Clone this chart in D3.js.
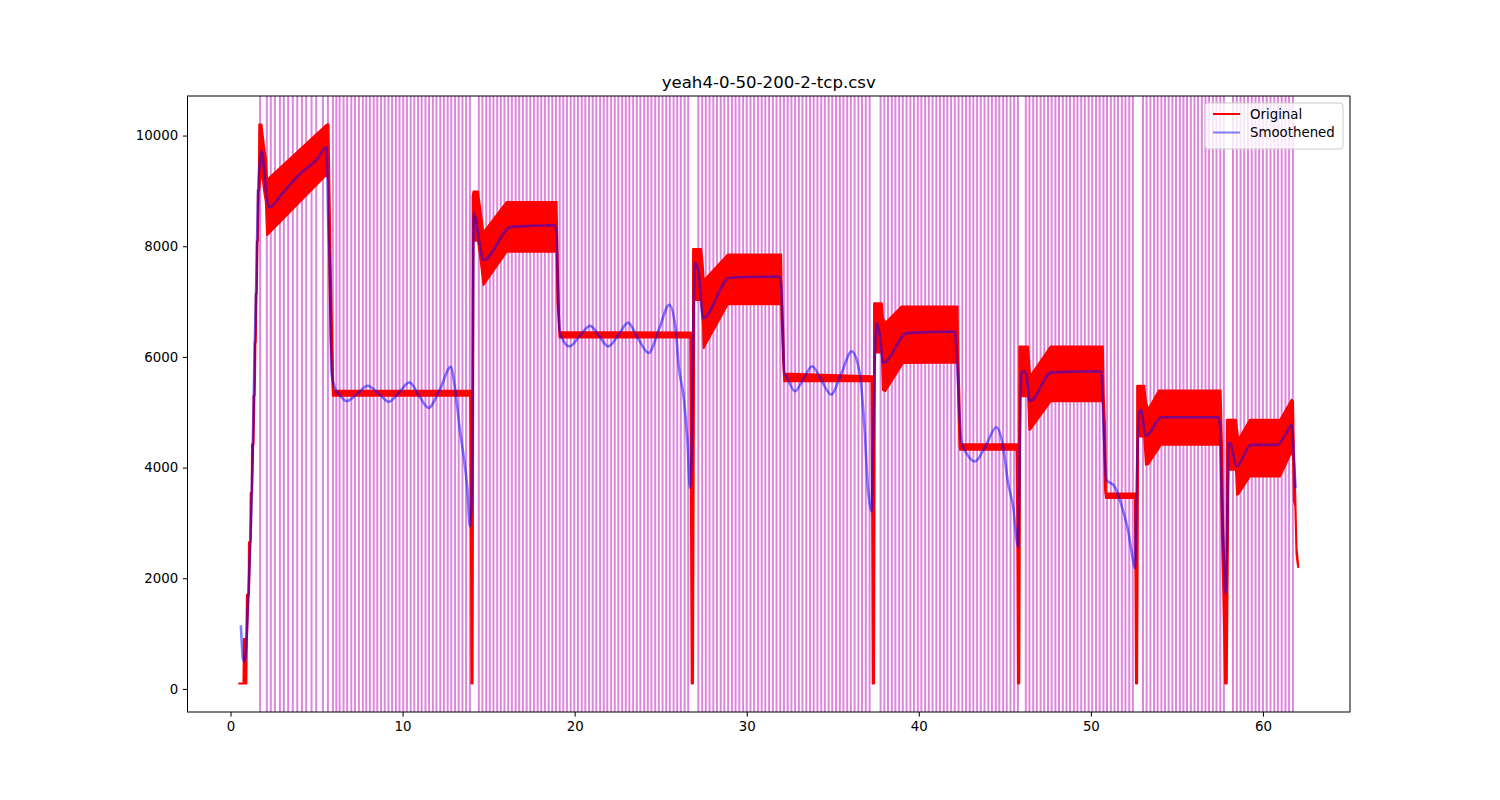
<!DOCTYPE html>
<html>
<head>
<meta charset="utf-8">
<script src="https://cdn.jsdelivr.net/npm/d3@7"></script>
<style>
  html, body { margin: 0; padding: 0; background: #fff; }
  svg { display: block; font-family: "DejaVu Sans", sans-serif; }
</style>
</head>
<body>
<svg id="chart" width="1500" height="800"></svg>
<script>
// ---------------- data ----------------
const chartTitle = "yeah4-0-50-200-2-tcp.csv";
const xTicks = [0, 10, 20, 30, 40, 50, 60];
const yTicks = [0, 2000, 4000, 6000, 8000, 10000];
const seriesNames = ["Original", "Smoothened"];

// event markers (vertical lines), seconds
const eventTimes = [
  1.72, 2.11, 2.34, 2.58, 2.87, 3.10, 3.35, 3.62, 3.88, 4.15, 4.40, 4.71, 4.98, 5.37, 5.66, 5.95,
  6.15, 6.34, 6.57, 6.78, 7.02, 7.23, 7.46, 7.69, 7.89, 8.10, 8.32, 8.53, 8.75, 8.96, 9.18, 9.39,
  9.61, 9.82, 10.04, 10.25, 10.47, 10.68, 10.90, 11.11, 11.33, 11.54, 11.76, 11.97, 12.19, 12.40,
  12.62, 12.83, 13.05, 13.26, 13.48, 13.69, 13.91,
  14.43, 14.64, 14.86, 15.07, 15.28, 15.50, 15.71, 15.92, 16.14, 16.35, 16.57, 16.78, 16.99, 17.21,
  17.42, 17.63, 17.85, 18.06, 18.27, 18.49, 18.70, 18.91, 19.13, 19.34, 19.55, 19.77, 19.98, 20.19,
  20.41, 20.62, 20.84, 21.05, 21.26, 21.48, 21.69, 21.90, 22.12, 22.33, 22.54, 22.76, 22.97, 23.18,
  23.40, 23.61, 23.82, 24.04, 24.25, 24.46, 24.68, 24.89, 25.11, 25.32, 25.53, 25.75, 25.96, 26.17,
  26.39, 26.60,
  27.19, 27.41, 27.62, 27.84, 28.06, 28.27, 28.49, 28.70, 28.92, 29.14, 29.35, 29.57, 29.79, 30.00,
  30.22, 30.43, 30.65, 30.87, 31.08, 31.30, 31.52, 31.73, 31.95, 32.16, 32.38, 32.60, 32.81, 33.03,
  33.24, 33.46, 33.68, 33.89, 34.11, 34.33, 34.54, 34.76, 34.97, 35.19, 35.41, 35.62, 35.84, 36.05,
  36.27, 36.49, 36.70, 36.92, 37.14,
  37.78, 38.00, 38.21, 38.43, 38.64, 38.86, 39.07, 39.29, 39.51, 39.72, 39.94, 40.15, 40.37, 40.58,
  40.80, 41.02, 41.23, 41.45, 41.66, 41.88, 42.09, 42.31, 42.53, 42.74, 42.96, 43.17, 43.39, 43.60,
  43.82, 44.04, 44.25, 44.47, 44.68, 44.90, 45.11, 45.33, 45.54, 45.76,
  46.22, 46.43, 46.65, 46.86, 47.08, 47.29, 47.51, 47.72, 47.94, 48.15, 48.37, 48.58, 48.79, 49.01,
  49.22, 49.44, 49.65, 49.87, 50.08, 50.30, 50.51, 50.73, 50.94, 51.16, 51.37, 51.58, 51.80, 52.01,
  52.23, 52.44,
  53.03, 53.24, 53.46, 53.67, 53.88, 54.10, 54.31, 54.52, 54.74, 54.95, 55.17, 55.38, 55.59, 55.81,
  56.02, 56.23, 56.45, 56.66, 56.87, 57.09, 57.30, 57.52, 57.73,
  58.26, 58.48, 58.70, 58.91, 59.13, 59.35, 59.57, 59.78, 60.00, 60.22, 60.44, 60.66, 60.87, 61.09,
  61.31, 61.52, 61.74
];

// original series, drawn as its oscillation band: [time, low, high]
const original = [
  [0.50,100,100],[0.75,100,100],[0.78,100,900],[0.92,100,900],[0.95,900,1700],[1.05,1700,1700],
  [1.07,1700,2650],[1.15,2650,2650],[1.17,2650,3540],[1.23,3540,3540],[1.25,3540,4420],[1.32,4420,4420],
  [1.34,4420,5300],[1.39,5300,5300],[1.41,5300,6260],[1.45,6260,6260],[1.47,6260,7140],[1.51,7140,7140],
  [1.53,7140,8090],[1.57,8090,8090],[1.59,8090,9010],[1.64,9010,9010],[1.67,9010,10200],[1.80,9400,10200],
  [1.95,9000,9800],[2.05,8800,9600],[2.13,8200,9200],[5.60,9300,10200],[5.70,9200,10200],[5.74,7600,9300],
  [5.82,6300,7700],[5.90,5700,6400],[5.95,5300,5800],[5.98,5300,5390],[13.93,5300,5390],
  [13.97,2900,5390],[14.00,100,3000],[14.04,100,100],[14.07,100,8900],[14.12,8100,8990],[14.38,8100,8990],
  [14.55,7700,8600],[14.70,7300,8250],[16.05,7900,8800],[18.95,7900,8800],[19.00,7000,8000],
  [19.06,6700,7100],[19.12,6350,6450],[26.72,6350,6440],
  [26.76,3000,6440],[26.80,100,3000],[26.85,100,100],[26.88,100,7950],[26.95,7030,7950],[27.35,7030,7950],
  [27.45,6600,7650],[27.50,6160,7400],[27.56,6200,7400],[28.90,6950,7850],[32.00,6950,7850],
  [32.05,6500,7000],[32.12,5900,6500],[32.18,5560,5700],[37.25,5560,5650],
  [37.29,3000,5650],[37.32,100,3000],[37.36,100,100],[37.40,100,6970],[37.45,6080,6970],[37.85,6080,6970],
  [37.92,5400,6700],[38.05,5380,6615],[39.00,5850,6910],[39.10,5890,6910],[42.25,5900,6910],
  [42.30,5200,6000],[42.36,4400,5300],[42.40,4320,4420],[45.68,4320,4420],
  [45.72,3000,4420],[45.76,100,3000],[45.80,100,100],[45.84,100,6190],[45.90,5290,6190],[46.35,5290,6190],
  [46.42,4684,5900],[46.47,4684,5648],[47.67,5200,6190],[50.70,5200,6190],
  [50.75,4700,5300],[50.82,3600,4800],[50.88,3450,3530],[52.56,3450,3530],
  [52.59,2000,3530],[52.62,100,2500],[52.66,100,100],[52.69,100,5480],[52.75,4560,5480],[53.10,4560,5480],
  [53.20,4051,5200],[53.33,4060,5045],[53.95,4350,5394],[54.05,4412,5394],[57.54,4412,5394],
  [57.62,2700,4420],[57.70,1650,2800],[57.80,100,1800],[57.86,100,100],[57.90,100,4864],[58.00,3960,4864],
  [58.43,3960,4864],[58.50,3508,4700],[58.57,3520,4503],[59.24,3840,4864],[61.00,3840,4864],
  [61.67,4291,5226],[61.75,4200,5200],[61.80,3400,4300],[61.88,3300,3500],[61.95,2450,2550],
  [62.00,2300,2400],[62.05,2200,2220]
];

// smoothened series: [time, value]
const smoothened = [
  [0.60,1150],[0.66,800],[0.72,550],[0.82,500],[0.95,1000],[1.02,1630],[1.10,2200],[1.22,3330],
  [1.30,4500],[1.41,6250],[1.50,7400],[1.60,8980],[1.72,9550],[1.80,9720],[1.95,9400],[2.10,8900],
  [2.23,8700],[3.00,8950],[4.00,9300],[5.00,9560],[5.58,9790],[5.68,8430],[5.77,7620],[5.87,5710],
  [6.06,5440],[6.30,5330],[6.75,5200],[7.35,5330],[7.97,5480],[8.60,5340],[9.19,5190],[9.80,5360],
  [10.40,5540],[10.95,5300],[11.50,5080],[12.15,5400],[12.80,5820],[13.05,5420],[13.35,4630],
  [13.55,4200],[13.75,3660],[13.91,2940],[14.02,3500],[14.07,5500],[14.14,8600],[14.25,8500],
  [14.45,8100],[14.70,7750],[16.30,8350],[18.85,8380],[18.95,8200],[19.02,7300],[19.12,6500],
  [19.30,6320],[19.70,6190],[20.30,6380],[20.90,6560],[21.40,6390],[21.95,6190],[22.55,6400],
  [23.10,6620],[23.65,6350],[24.30,6070],[24.90,6500],[25.50,6940],[25.85,6550],[26.05,5830],
  [26.35,5230],[26.55,4500],[26.70,3630],[26.82,4500],[26.90,6500],[27.00,7700],[27.20,7520],
  [27.46,6700],[29.00,7430],[31.90,7450],[32.00,7300],[32.09,6490],[32.19,5710],[32.30,5650],
  [32.80,5380],[33.30,5600],[33.80,5830],[34.35,5570],[34.90,5320],[35.50,5700],[36.10,6100],
  [36.57,5700],[36.85,4680],[37.05,3600],[37.25,3210],[37.35,4500],[37.45,6000],[37.55,6610],
  [37.75,6370],[37.93,5890],[39.30,6430],[42.10,6460],[42.22,5900],[42.34,5100],[42.48,4470],
  [42.77,4260],[43.26,4110],[43.90,4400],[44.50,4730],[44.90,4380],[45.19,3720],[45.48,3300],
  [45.77,2570],[45.85,4000],[45.97,5710],[46.07,5740],[46.24,5700],[46.45,5200],[47.70,5720],
  [50.60,5740],[50.74,4680],[50.90,3780],[51.38,3660],[51.67,3420],[51.96,3120],[52.15,2880],
  [52.35,2510],[52.56,2180],[52.65,3600],[52.80,4985],[52.90,5045],[53.20,4575],[54.10,4910],
  [57.40,4910],[57.50,4800],[57.60,3480],[57.70,2630],[57.83,1730],[57.95,3500],[58.00,4440],
  [58.10,4450],[58.45,4020],[59.30,4410],[60.85,4410],[61.35,4620],[61.67,4770],[61.80,4170],
  [61.90,3630]
];

// ---------------- drawing ----------------
const svg = d3.select("#chart");
const W = 1500, H = 800;
const plot = { left: 187.5, right: 1350, top: 96, bottom: 712 };

const x = d3.scaleLinear().domain([-2.5, 65.06]).range([plot.left, plot.right]);
const y = d3.scaleLinear().domain([-417, 10715]).range([plot.bottom, plot.top]);

svg.append("rect").attr("width", W).attr("height", H).attr("fill", "#fff");

svg.append("defs").append("clipPath").attr("id", "clip")
  .append("rect")
  .attr("x", plot.left).attr("y", plot.top)
  .attr("width", plot.right - plot.left).attr("height", plot.bottom - plot.top);

const g = svg.append("g").attr("clip-path", "url(#clip)");

// event lines
g.append("g").selectAll("line").data(eventTimes).join("line")
  .attr("x1", d => x(d)).attr("x2", d => x(d))
  .attr("y1", plot.top).attr("y2", plot.bottom)
  .attr("stroke", "#de86de").attr("stroke-width", 2);

// original (band)
const band = d3.area()
  .x(d => x(d[0]))
  .y0(d => y(d[1]))
  .y1(d => y(d[2]));
g.append("path").datum(original)
  .attr("d", band)
  .attr("fill", "#ff0000")
  .attr("stroke", "#ff0000")
  .attr("stroke-width", 2)
  .attr("stroke-linejoin", "round");

// smoothened
const line = d3.line().x(d => x(d[0])).y(d => y(d[1])).curve(d3.curveMonotoneX);
g.append("path").datum(smoothened)
  .attr("d", line)
  .attr("fill", "none")
  .attr("stroke", "#0000ff")
  .attr("stroke-opacity", 0.5)
  .attr("stroke-width", 2.6)
  .attr("stroke-linejoin", "round");

// axes
const xAxis = d3.axisBottom(x).tickValues(xTicks).tickSize(4.67).tickPadding(4.67).tickFormat(d3.format("d"));
const yAxis = d3.axisLeft(y).tickValues(yTicks).tickSize(4.67).tickPadding(4.67).tickFormat(d3.format("d"));

const gx = svg.append("g").attr("transform", `translate(0,${plot.bottom})`).call(xAxis);
const gy = svg.append("g").attr("transform", `translate(${plot.left},0)`).call(yAxis);
[gx, gy].forEach(a => {
  a.select(".domain").remove();
  a.selectAll(".tick line").attr("stroke", "#000").attr("stroke-width", 1);
  a.selectAll(".tick text").attr("fill", "#000")
    .style("font-family", "'DejaVu Sans', sans-serif").style("font-size", "13.33px");
});

// spines
svg.append("rect")
  .attr("x", plot.left).attr("y", plot.top)
  .attr("width", plot.right - plot.left).attr("height", plot.bottom - plot.top)
  .attr("fill", "none").attr("stroke", "#000").attr("stroke-width", 1);

// title
svg.append("text")
  .attr("x", (plot.left + plot.right) / 2).attr("y", 88)
  .attr("text-anchor", "middle")
  .style("font-size", "16.6px").attr("fill", "#000")
  .text(chartTitle);

// legend
const lg = svg.append("g");
lg.append("rect")
  .attr("x", 1205).attr("y", 103).attr("width", 138).attr("height", 46)
  .attr("rx", 3).attr("ry", 3)
  .attr("fill", "#fff").attr("fill-opacity", 0.8)
  .attr("stroke", "#cccccc").attr("stroke-width", 1);
const legendColors = ["#ff0000", "rgba(0,0,255,0.5)"];
seriesNames.forEach((name, i) => {
  const yy = 114 + i * 18.5;
  lg.append("line").attr("x1", 1213).attr("x2", 1240).attr("y1", yy).attr("y2", yy)
    .attr("stroke", legendColors[i]).attr("stroke-width", 2);
  lg.append("text").attr("x", 1250).attr("y", yy).attr("dy", "0.35em")
    .style("font-size", "13.33px").attr("fill", "#000").text(name);
});
</script>
</body>
</html>
